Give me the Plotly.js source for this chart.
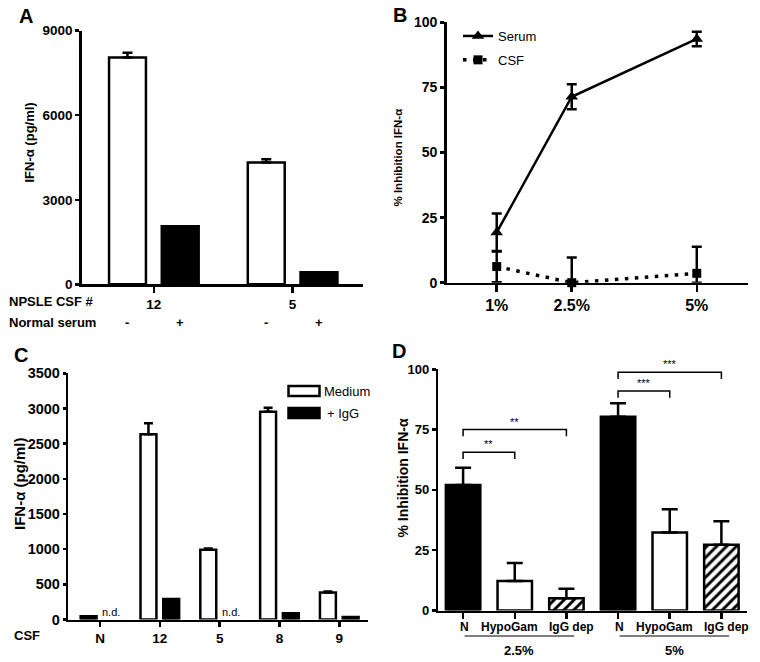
<!DOCTYPE html>
<html><head><meta charset="utf-8">
<script src="https://cdn.plot.ly/plotly-3.0.1.min.js"></script>
<style>html,body{margin:0;padding:0;background:#fff}#chart{width:760px;height:662px}</style>
</head><body><div id="chart"></div>
<script>
// ---------- Panel A ----------
const aCsf = ['12', '5'];
const aSerumSigns = ['-', '+'];
const aMedium = [8050, 4320];
const aMediumErr = [170, 120];
const aSerum = [2060, 430];
// ---------- Panel B ----------
const bConc = [1, 2.5, 5];
const bConcLabels = ['1%', '2.5%', '5%'];
const bSerum = [19.3, 71.4, 93.6];
const bSerumErr = [7.3, 4.8, 2.8];
const bCsf = [6.2, 0, 3.6];
const bCsfErrPlus = [6.0, 9.7, 10.2];
const bCsfErrMinus = [6.0, 0, 3.6];
// ---------- Panel C ----------
const cCsf = ['N', '12', '5', '8', '9'];
const cMedium = [45, 2635, 990, 2955, 385];
const cMediumErr = [0, 155, 18, 55, 12];
const cIgG = [null, 290, null, 90, 35];
const cNotDone = ['N', '5'];
// ---------- Panel D ----------
const dGroups = ['2.5%', '5%'];
const dConds = ['N', 'HypoGam', 'IgG dep'];
const dN = [52.0, 80.3];
const dNErr = [7.2, 5.6];
const dHypo = [12.2, 32.3];
const dHypoErr = [7.5, 9.7];
const dIgGdep = [5.1, 27.3];
const dIgGdepErr = [3.9, 9.7];
const dSigGroup = [0, 0, 1, 1];
const dSigFrom = [0, 0, 0, 0];
const dSigTo = [1, 2, 1, 2];
const dSigY = [65.6, 75.0, 91.0, 98.8];
const dSigLabel = ['**', '**', '***', '***'];

// ---------- helpers ----------
const W = 760, H = 662;
const px = v => v / W;
const py = v => 1 - v / H;
const FONT = 'Liberation Sans, Arial, Helvetica, sans-serif';
const zeros = a => a.map(() => 0);
const bold = s => ({family: FONT, size: s, weight: 'bold', color: 'black'});
const D_LABEL_SHIFT = [1, -5, 5];   // pixel nudges of the D condition labels, as in the original

const axBase = {
  showline: true, linecolor: 'black', linewidth: 2.5, mirror: false,
  ticks: 'outside', tickcolor: 'black', tickwidth: 2.5, ticklen: 5,
  showgrid: false, zeroline: false, fixedrange: true, tickangle: 0,
  tickfont: bold(13)
};

const traces = [];
// Panel A bars
traces.push({
  type: 'bar', x: aCsf, y: aMedium, xaxis: 'x', yaxis: 'y', name: 'Medium', showlegend: false,
  marker: {color: 'white', line: {color: 'black', width: 2.5}},
  error_y: {type: 'data', symmetric: false, array: aMediumErr, arrayminus: zeros(aMediumErr),
            color: 'black', thickness: 2.5, width: 5}
});
traces.push({
  type: 'bar', x: aCsf, y: aSerum, xaxis: 'x', yaxis: 'y', name: 'Normal serum', showlegend: false,
  marker: {color: 'black', line: {color: 'black', width: 2.5}}
});
// Panel B lines
traces.push({
  type: 'scatter', mode: 'lines+markers', x: bConc, y: bSerum, xaxis: 'x2', yaxis: 'y2',
  name: 'Serum', legendgroup: 'serum', cliponaxis: false,
  line: {color: 'black', width: 2.5},
  marker: {symbol: 'triangle-up', size: 11, color: 'black'},
  error_y: {type: 'data', array: bSerumErr, color: 'black', thickness: 2.5, width: 5}
});
traces.push({
  type: 'scatter', mode: 'lines+markers', x: bConc, y: bCsf, xaxis: 'x2', yaxis: 'y2',
  name: 'CSF', legendgroup: 'csf', cliponaxis: false,
  line: {color: 'black', width: 3.5, dash: '3.5px,6.5px'},
  marker: {symbol: 'square', size: 9, color: 'black'},
  error_y: {type: 'data', symmetric: false, array: bCsfErrPlus, arrayminus: bCsfErrMinus,
            color: 'black', thickness: 2.5, width: 5}
});
// Panel C bars
traces.push({
  type: 'bar', x: cCsf, y: cMedium, xaxis: 'x3', yaxis: 'y3', name: 'Medium', showlegend: false,
  marker: {color: cCsf.map(c => c === 'N' ? 'black' : 'white'), line: {color: 'black', width: 2.5}},
  error_y: {type: 'data', symmetric: false, array: cMediumErr, arrayminus: zeros(cMediumErr),
            color: 'black', thickness: 2.5, width: 4.5}
});
traces.push({
  type: 'bar', x: cCsf, y: cIgG, xaxis: 'x3', yaxis: 'y3', name: '+ IgG', showlegend: false,
  marker: {color: 'black', line: {color: 'black', width: 2.5}}
});
// Panel D bars: one trace per condition, positioned by group index
const dSeries = [
  {vals: dN, errs: dNErr, color: 'black', shape: ''},
  {vals: dHypo, errs: dHypoErr, color: 'white', shape: ''},
  {vals: dIgGdep, errs: dIgGdepErr, color: 'white', shape: '/'}
];
const dPos = [];
dGroups.forEach((g, gi) => dConds.forEach((c, ci) => dPos.push(gi * dConds.length + ci)));
dSeries.forEach((s, ci) => {
  const marker = {color: s.color, line: {color: 'black', width: 2.5}};
  if (s.shape) marker.pattern = {shape: s.shape, fgcolor: 'black', bgcolor: 'white', size: 7, solidity: 0.42};
  traces.push({
    type: 'bar', name: dConds[ci], showlegend: false, xaxis: 'x4', yaxis: 'y4',
    x: dGroups.map((g, gi) => gi * dConds.length + ci), y: s.vals,
    width: 0.667, offset: -0.3335,
    marker: marker,
    error_y: {type: 'data', symmetric: false, array: s.errs, arrayminus: zeros(s.errs),
              color: 'black', thickness: 2.5, width: 8}
  });
});

// ---------- annotations & shapes ----------
const ann = [];
const shapes = [];
const pAnn = (o) => ann.push(Object.assign({xref: 'paper', yref: 'paper', showarrow: false,
  xanchor: 'center', yanchor: 'middle'}, o));
const letter = (t, x, y) => pAnn({text: t, x: px(x), y: py(y), font: bold(20)});
letter('A', 25.5, 15.7); letter('B', 400, 15); letter('C', 20.5, 355); letter('D', 398.5, 351);

const ytitle = (t, x, y, size) => pAnn({text: t, x: px(x), y: py(y), textangle: -90, font: bold(size)});
ytitle('IFN-α (pg/ml)', 28.5, 143, 13);
ytitle('% Inhibition IFN-α', 397.5, 158, 11.5);
ytitle('IFN-α (pg/ml)', 19, 484, 15);
ytitle('% Inhibition IFN-α', 402.5, 478, 14);

// Panel A row labels
const rowFont = bold(13);
pAnn({text: 'NPSLE CSF #', x: px(6.7), y: py(301), xanchor: 'left', font: rowFont});
pAnn({text: 'Normal serum', x: px(6.7), y: py(322), xanchor: 'left', font: rowFont});
aCsf.forEach((c, i) => {
  aSerumSigns.forEach((s, j) => {
    pAnn({text: s, xref: 'x', x: i + (j === 0 ? -0.19 : 0.19), y: py(322), font: rowFont});
  });
});
// Panel C
pAnn({text: 'CSF', x: px(12), y: py(635), xanchor: 'left', font: rowFont});
cNotDone.forEach(c => {
  ann.push({text: 'n.d.', xref: 'x3', yref: 'y3', x: cCsf.indexOf(c) + 0.19, y: 0, yanchor: 'bottom',
    xanchor: 'center', showarrow: false, font: {family: FONT, size: 11, color: 'black'}});
});
// Panel C legend (wide swatches)
shapes.push({type: 'rect', xref: 'paper', yref: 'paper', x0: px(288.5), x1: px(319.5), y0: py(396), y1: py(386),
  fillcolor: 'white', line: {color: 'black', width: 2.5}});
shapes.push({type: 'rect', xref: 'paper', yref: 'paper', x0: px(288.5), x1: px(319.5), y0: py(418), y1: py(408),
  fillcolor: 'black', line: {color: 'black', width: 2.5}});
pAnn({text: 'Medium', x: px(321.5), y: py(391), xanchor: 'left', font: {family: FONT, size: 13, color: 'black'}});
pAnn({text: '+ IgG', x: px(325), y: py(413), xanchor: 'left', font: {family: FONT, size: 13, color: 'black'}});
// Panel D condition labels (tick labels, nudged apart as in the original)
dGroups.forEach((g, gi) => dConds.forEach((c, ci) => {
  pAnn({text: c, xref: 'x4', x: gi * dConds.length + ci, y: py(627), xshift: D_LABEL_SHIFT[ci], font: bold(12)});
}));
// Panel D significance brackets
dSigY.forEach((y, k) => {
  const base = dSigGroup[k] * dConds.length;
  const x1 = base + dSigFrom[k], x2 = base + dSigTo[k];
  const leg = y - 2.8;
  shapes.push({type: 'path', xref: 'x4', yref: 'y4',
    path: `M ${x1},${leg} L ${x1},${y} L ${x2},${y} L ${x2},${leg}`,
    line: {color: 'black', width: 1.5}});
  ann.push({text: dSigLabel[k], xref: 'x4', yref: 'y4', x: (x1 + x2) / 2, y: y, yanchor: 'bottom',
    xanchor: 'center', showarrow: false, font: {family: FONT, size: 11, color: '#000000'}});
});
// Panel D group labels & underlines
dGroups.forEach((g, gi) => {
  const base = gi * dConds.length;
  shapes.push({type: 'line', xref: 'x4', yref: 'paper', x0: base + 0.03, x1: base + 2.15, y0: py(636), y1: py(636),
    line: {color: 'black', width: 1}});
  pAnn({text: g, xref: 'x4', x: base + 1.09, y: py(650), font: rowFont});
});

const layout = {
  width: W, height: H, margin: {l: 0, r: 0, t: 0, b: 0},
  paper_bgcolor: 'white', plot_bgcolor: 'rgba(0,0,0,0)',
  font: {family: FONT, color: 'black'},
  barmode: 'group', bargap: 0.24, bargroupgap: 0.3,
  showlegend: true,
  legend: {x: px(458), y: py(21), xanchor: 'left', yanchor: 'top', bgcolor: 'rgba(0,0,0,0)',
           font: {family: FONT, size: 13, color: 'black'}, itemwidth: 30, tracegroupgap: 4,
           traceorder: 'grouped'},
  xaxis: Object.assign({}, axBase, {domain: [px(81.7), px(362.7)], anchor: 'y', type: 'category',
          range: [-0.52, 1.505], ticklen: 6, tickfont: bold(13.5)}),
  yaxis: Object.assign({}, axBase, {domain: [py(284.3), py(30.7)], anchor: 'x', range: [0, 9000],
          tickvals: [0, 3000, 6000, 9000], ticklen: 4, tickfont: bold(13.5)}),
  xaxis2: Object.assign({}, axBase, {domain: [px(446.7), px(748.3)], anchor: 'y2', range: [0, 6.03],
          tickvals: bConc, ticktext: bConcLabels, ticklen: 7, tickfont: bold(16)}),
  yaxis2: Object.assign({}, axBase, {domain: [py(282.7), py(22.3)], anchor: 'x2', range: [0, 100],
          tickvals: [0, 25, 50, 75, 100], ticklen: 4, tickfont: bold(14)}),
  xaxis3: Object.assign({}, axBase, {domain: [px(68.3), px(368)], anchor: 'y3', type: 'category',
          range: [-0.53, 4.48], tickfont: bold(13.5)}),
  yaxis3: Object.assign({}, axBase, {domain: [py(619.5), py(373.3)], anchor: 'x3', range: [0, 3500],
          dtick: 500, ticklen: 3, tickfont: bold(14.5)}),
  xaxis4: Object.assign({}, axBase, {domain: [px(438.3), px(746.7)], anchor: 'y4', range: [-0.48, 5.49],
          tickvals: dPos, showticklabels: false, ticklen: 6}),
  yaxis4: Object.assign({}, axBase, {domain: [py(610.5), py(369.3)], anchor: 'x4', range: [0, 100],
          tickvals: [0, 25, 50, 75, 100], ticklen: 4, tickfont: bold(13)}),
  annotations: ann,
  shapes: shapes
};

Plotly.newPlot('chart', traces, layout, {staticPlot: true, displayModeBar: false});
</script>
</body></html>
